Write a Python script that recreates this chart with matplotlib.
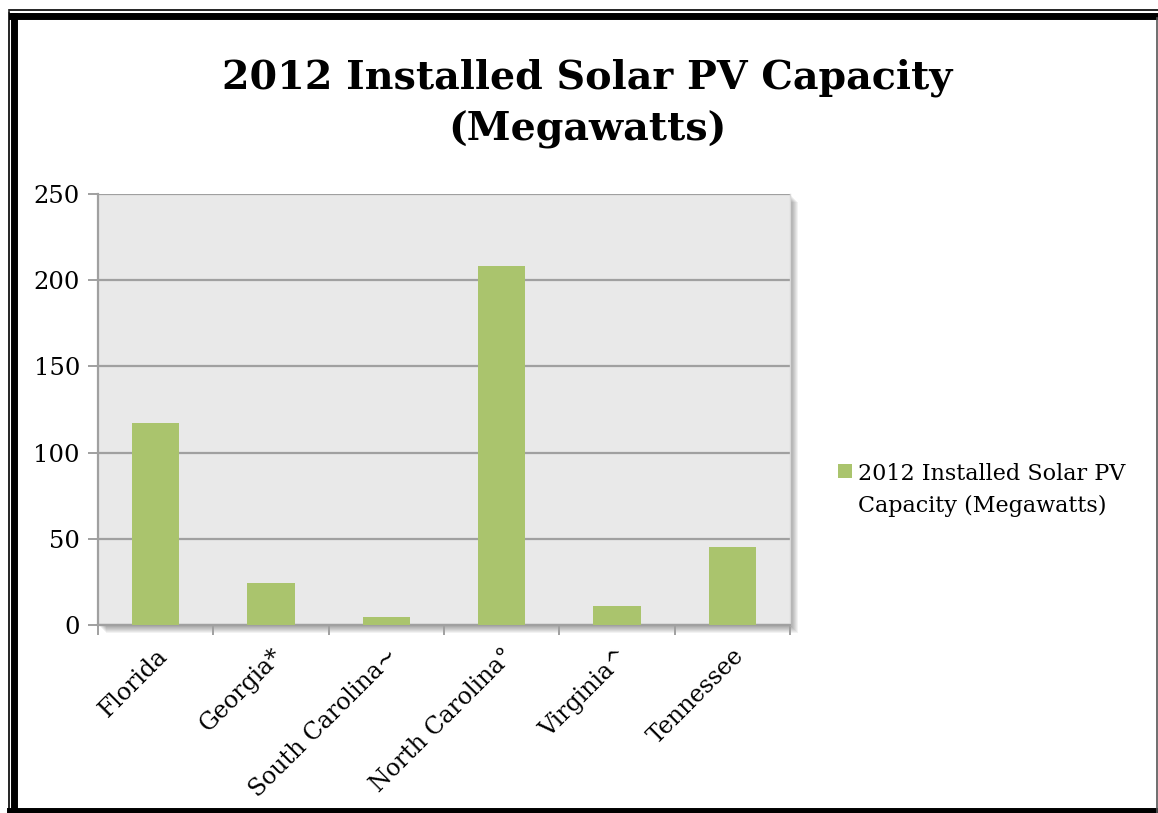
import matplotlib
matplotlib.use("Agg")
import matplotlib.pyplot as plt
from matplotlib.patches import Rectangle
from matplotlib.lines import Line2D

states = ["Florida", "Georgia*", "South Carolina~", "North Carolina\u00b0", "Virginia^", "Tennessee"]
capacity = [117, 24.5, 4.6, 208, 11, 45]
yticks = [0, 50, 100, 150, 200, 250]
title = "2012 Installed Solar PV Capacity\n(Megawatts)"
series_name = "2012 Installed Solar PV\nCapacity (Megawatts)"

W, H = 1158, 813
BAR = "#aac46d"
GRID = "#a0a0a0"

plt.rcParams["font.family"] = ["DejaVu Serif"]

fig = plt.figure(figsize=(W / 100, H / 100), dpi=100)

def fx(px):
    return px / W

def fy(py):
    return 1 - py / H

# frame round the chart
fig.add_artist(Line2D([fx(9), fx(9)], [fy(808), fy(12)], transform=fig.transFigure, color="black", lw=1.2))
fig.add_artist(Line2D([fx(9), fx(1158)], [fy(10), fy(10)], transform=fig.transFigure, color="black", lw=1.2))
fig.add_artist(Line2D([fx(14), fx(14)], [fy(813), fy(16)], transform=fig.transFigure, color="black", lw=5))
fig.add_artist(Line2D([fx(12), fx(1158)], [fy(16.5), fy(16.5)], transform=fig.transFigure, color="black", lw=5))
fig.add_artist(Line2D([fx(10), fx(1158)], [fy(811), fy(811)], transform=fig.transFigure, color="black", lw=5))
fig.add_artist(Line2D([fx(1157), fx(1157)], [fy(18), fy(813)], transform=fig.transFigure, color="#555555", lw=1.2))

ax_l, ax_r, ax_t, ax_b = 98, 790, 194, 625
ax = fig.add_axes([fx(ax_l), fy(ax_b), fx(ax_r - ax_l), (ax_b - ax_t) / H])

# soft shadow behind the plot area
for i in range(8):
    off = 1 + i
    fig.add_artist(Rectangle((fx(ax_l + off), fy(ax_b + off)), fx(ax_r - ax_l), (ax_b - ax_t) / H,
                             transform=fig.transFigure, facecolor="black", alpha=0.05,
                             edgecolor="none", zorder=0))

ax.set_facecolor("#e9e9e9")
x = range(len(states))
ax.bar(x, capacity, width=0.41, color=BAR, zorder=3)

ax.set_xlim(-0.5, len(states) - 0.5)
ax.set_ylim(0, 250)
ax.set_yticks(yticks)
ax.set_yticklabels([str(v) for v in yticks], fontsize=17.5)
ax.yaxis.grid(True, color=GRID, lw=1.6, zorder=1)
ax.set_axisbelow(True)

ax.set_xticks(list(x))
ax.set_xticklabels(states, rotation=45, ha="right", va="top", rotation_mode="anchor", fontsize=17)
ax.set_xticks([i - 0.5 for i in range(len(states) + 1)], minor=True)
ax.tick_params(axis="x", which="major", length=0, pad=14)
ax.tick_params(axis="x", which="minor", length=7, width=1.4, color=GRID, direction="out")
ax.tick_params(axis="y", length=7, width=1.4, color=GRID, direction="out", pad=6)

for side in ["top", "right"]:
    ax.spines[side].set_visible(False)
for side in ["left", "bottom"]:
    ax.spines[side].set_color(GRID)
    ax.spines[side].set_linewidth(1.6)
ax.spines["right"].set_visible(True)
ax.spines["right"].set_color("#d8d8d8")
ax.spines["right"].set_linewidth(1)

fig.text(fx(587), fy(104), title, ha="center", va="center", fontsize=28.5, fontweight="bold",
         linespacing=1.45)

# legend
fig.add_artist(Rectangle((fx(838), fy(478)), fx(14), 14 / H, transform=fig.transFigure,
                         facecolor=BAR, edgecolor="none"))
fig.text(fx(858), fy(490), series_name, ha="left", va="center", fontsize=16, linespacing=1.6)

fig.savefig("out.png", dpi=100)
